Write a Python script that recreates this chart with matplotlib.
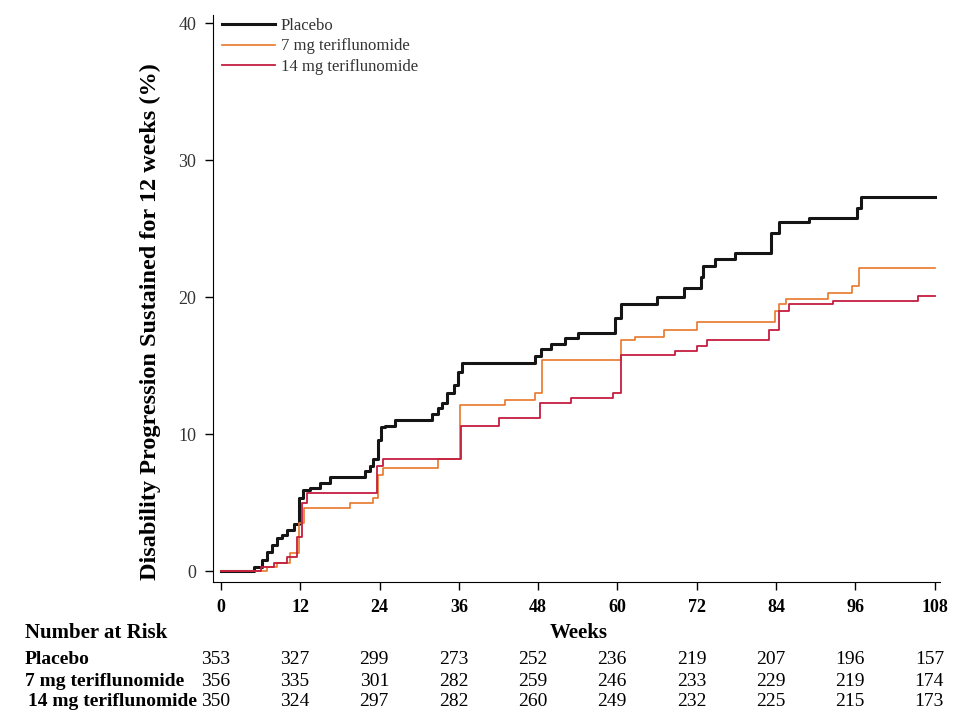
import matplotlib
matplotlib.use('Agg')
import matplotlib.pyplot as plt
import matplotlib.transforms as mtransforms

plt.rcParams['font.family'] = ['Liberation Serif', 'DejaVu Serif']

# Kaplan-Meier step curves (week, cumulative %)
placebo_wk = [0, 5, 6.2, 7, 7.7, 8.5, 9.2, 10, 11, 11.8, 12.4, 13.5, 15, 16.5, 21.8, 22.5,
              23, 23.7, 24.2, 24.8, 26.3, 32, 32.8, 33.5, 34.2, 35.2, 35.8, 36.4, 47.5, 48.5,
              50, 52, 54, 59.6, 60.5, 66, 70, 72.6, 73, 74.7, 77.8, 83.3, 84.5, 89, 96.2,
              96.8, 108]
placebo_pct = [0, 0.3, 0.8, 1.4, 1.9, 2.4, 2.6, 3.0, 3.4, 5.3, 5.9, 6.1, 6.4, 6.9, 7.3, 7.7,
               8.2, 9.6, 10.5, 10.6, 11.0, 11.5, 11.9, 12.3, 13.0, 13.6, 14.5, 15.2, 15.7, 16.2,
               16.6, 17.0, 17.4, 18.5, 19.5, 20.0, 20.7, 21.5, 22.3, 22.8, 23.2, 24.7, 25.5,
               25.8, 26.5, 27.3, 27.3]

teri7_wk = [0, 7, 8.5, 10.4, 11.8, 12.5, 19.5, 23, 23.8, 24.5, 32.8, 36.2, 43, 47.5, 48.6,
            60.5, 62.6, 67, 72, 83.8, 84.5, 85.5, 91.8, 95.5, 96.5, 108]
teri7_pct = [0, 0.3, 0.6, 1.3, 3.5, 4.6, 5.0, 5.3, 7.0, 7.5, 8.2, 12.1, 12.5, 13.0, 15.4,
             16.9, 17.1, 17.6, 18.2, 19.0, 19.5, 19.9, 20.3, 20.8, 22.1, 22.1]

teri14_wk = [0, 6, 8, 10, 11.5, 12.3, 13, 23.6, 24.5, 36.3, 42, 48.3, 53, 59.3, 60.5, 68.7,
             72, 73.5, 83, 84.5, 86, 92.6, 105.4, 108]
teri14_pct = [0, 0.3, 0.6, 1.0, 2.5, 5.0, 5.7, 7.7, 8.2, 10.6, 11.2, 12.3, 12.6, 13.0, 15.8,
              16.1, 16.4, 16.9, 17.6, 19.0, 19.5, 19.7, 20.1, 20.1]

# number at risk table
risk_weeks = [0, 12, 24, 36, 48, 60, 72, 84, 96, 108]
risk_labels = ['Placebo', '7 mg teriflunomide', '14 mg teriflunomide']
risk_placebo = [353, 327, 299, 273, 252, 236, 219, 207, 196, 157]
risk_teri7 = [356, 335, 301, 282, 259, 246, 233, 229, 219, 174]
risk_teri14 = [350, 324, 297, 282, 260, 249, 232, 225, 215, 173]

fig = plt.figure(figsize=(9.54, 7.15), dpi=100)
ax = fig.add_axes([0.2233, 0.186, 0.762, 0.793])

ax.step(placebo_wk, placebo_pct, where='post', color='#151515', lw=2.2, label='Placebo')
ax.step(teri7_wk, teri7_pct, where='post', color='#e8782a', lw=1.2, label='7 mg teriflunomide')
ax.step(teri14_wk, teri14_pct, where='post', color='#c41e3f', lw=1.3, label='14 mg teriflunomide')

ax.set_xlim(-1.2, 108.8)
ax.set_ylim(-0.8, 40.6)
ax.set_xticks(risk_weeks)
ax.set_yticks([0, 10, 20, 30, 40])
ax.spines['top'].set_visible(False)
ax.spines['right'].set_visible(False)
ax.tick_params(direction='out', length=6, width=1, labelsize=13, pad=6)
for lab in ax.get_xticklabels():
    lab.set_fontweight('bold')
for lab in ax.get_yticklabels():
    lab.set_color('#333333')

ax.set_ylabel('Disability Progression Sustained for 12 weeks (%)', fontsize=17.5,
              fontweight='bold')
ax.yaxis.set_label_coords(-0.072, 0.46)

leg = ax.legend(loc='upper left', bbox_to_anchor=(-0.002, 1.012), frameon=False, fontsize=12,
                handlelength=3.2, borderaxespad=0.2, labelspacing=0.25, handletextpad=0.35)
for t in leg.get_texts():
    t.set_color('#333333')

# risk table below the axis
fig.text(25 / 954, 1 - 633 / 715, 'Number at Risk', fontsize=15, fontweight='bold',
         va='center', ha='left')
fig.text(579 / 954, 1 - 633 / 715, 'Weeks', fontsize=15, fontweight='bold',
         va='center', ha='center')

trans = mtransforms.blended_transform_factory(ax.transData, fig.transFigure)
rows_y = [1 - 660 / 715, 1 - 681 / 715, 1 - 702 / 715]
rows_x = [25 / 954, 25 / 954, 28 / 954]
for label, counts, x, y in zip(risk_labels, [risk_placebo, risk_teri7, risk_teri14], rows_x, rows_y):
    fig.text(x, y, label, fontsize=14, fontweight='bold', va='center', ha='left')
    for wk, n in zip(risk_weeks, counts):
        ax.text(wk - 0.8, y, str(n), transform=trans, fontsize=14, va='center',
                ha='center', clip_on=False)

fig.savefig('out.png', dpi=100)
